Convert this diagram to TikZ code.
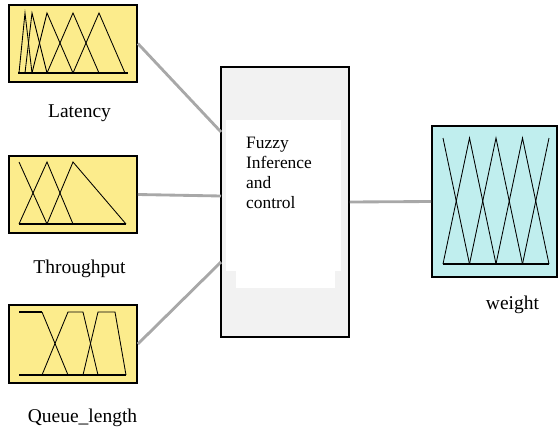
\documentclass[tikz,border=0pt]{standalone}
\usepackage{fontspec}
\setmainfont{Liberation Serif}
\definecolor{inyellow}{RGB}{252,236,140}
\definecolor{outcyan}{RGB}{192,238,238}
\definecolor{fisgray}{RGB}{242,242,242}
\definecolor{wiregray}{RGB}{168,168,168}
\tikzset{
	mfbox/.style={draw, line width=0.6mm, inner sep=0pt},
	mfline/.style={line width=0.3mm},
	mfbase/.style={line width=0.5mm},
	wire/.style={draw=wiregray, line width=1mm},
	lbl/.style={inner sep=0pt, anchor=base, font=\fontsize{19.5}{20}\selectfont},
}
\begin{document}
\begin{tikzpicture}[x=1pt, y=-1pt]
	\useasboundingbox (0,0) rectangle (558,429);
	\coordinate (fisin1) at (221,132);
	\coordinate (fisin2) at (221,196);
	\coordinate (fisin3) at (221,262);
	\node[mfbox, fill=inyellow, minimum width=128pt, minimum height=77pt] (latency) at (73,43.5) {};
	\node[mfbox, fill=inyellow, minimum width=128pt, minimum height=77pt] (throughput) at (73,194.5) {};
	\node[mfbox, fill=inyellow, minimum width=128pt, minimum height=78pt] (queue) at (73,344) {};
	\node[mfbox, fill=fisgray, minimum width=128pt, minimum height=270pt] (fis) at (285,202) {};
	\node[mfbox, fill=outcyan, minimum width=125pt, minimum height=151pt] (weight) at (494.5,201.5) {};
	\draw[wire] (latency.east) -- (fisin1);
	\draw[wire] (throughput.east) -- (fisin2);
	\draw[wire] (queue.east) -- (fisin3);
	\draw[wire] (fis.east) -- (weight.west);
	\fill[white] (226,120) rectangle (341,271);
	\fill[white] (236,271) rectangle (335,288);
	\node[anchor=north west, align=left, inner sep=0pt, font=\fontsize{17.4}{20}\selectfont] (fistext) at (246,137) {Fuzzy\\Inference\\and\\control};
	\begin{scope}[xshift=18pt, yshift=-73pt]
	\draw[mfbase] (0,0) -- (110,0);
	\draw[mfline] (1,0) -- (7,-60) -- (14,0);
	\draw[mfline] (7,0) -- (14,-60) -- (29,0);
	\draw[mfline] (14,0) -- (29,-60) -- (55,0);
	\draw[mfline] (29,0) -- (55,-60) -- (81,0);
	\draw[mfline] (55,0) -- (81,-60) -- (107,0);
	\end{scope}
	\begin{scope}[xshift=19pt, yshift=-224pt]
	\draw[mfbase] (0,0) -- (107,0);
	\draw[mfline] (0,-62) -- (28,0);
	\draw[mfline] (0,0) -- (28,-62) -- (54,0);
	\draw[mfline] (28,0) -- (54,-62) -- (107,0);
	\end{scope}
	\begin{scope}[xshift=19pt, yshift=-375pt]
	\draw[mfbase] (0,0) -- (107,0);
	\draw[mfbase] (0,-63) -- (23,-63);
	\draw[mfline] (23,-63) -- (49,0);
	\draw[mfline] (23,0) -- (49,-63) -- (64,-63) -- (79,0);
	\draw[mfline] (64,0) -- (79,-63) -- (96,-63) -- (107,0);
	\end{scope}
	\begin{scope}[xshift=443pt, yshift=-264pt]
	\draw[mfbase] (0,0) -- (106,0);
	\draw[mfline] (0,-126) -- (26.5,0);
	\draw[mfline] (0,0) -- (26.5,-126) -- (53,0);
	\draw[mfline] (26.5,0) -- (53,-126) -- (79.5,0);
	\draw[mfline] (53,0) -- (79.5,-126) -- (106,0);
	\draw[mfline] (79.5,0) -- (106,-126);
	\end{scope}
	\node[lbl] (latencylbl) at (79.5,117) {Latency};
	\node[lbl] (throughputlbl) at (79.5,273) {Throughput};
	\node[lbl] (queuelbl) at (82.5,422) {Queue\_length};
	\node[lbl] (weightlbl) at (512.5,309) {weight};
\end{tikzpicture}
\end{document}
